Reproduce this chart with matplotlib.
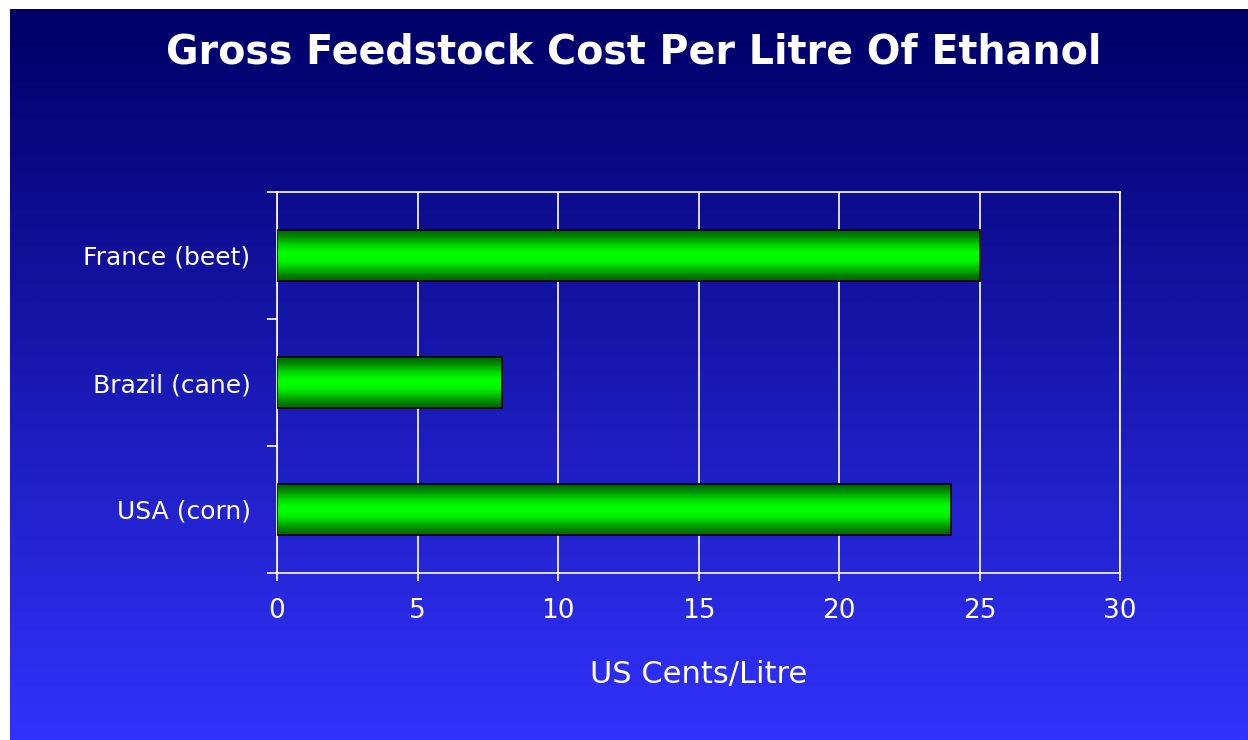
import numpy as np
import matplotlib
matplotlib.use('Agg')
import matplotlib.pyplot as plt

categories = ['USA (corn)', 'Brazil (cane)', 'France (beet)']
cost_cents = [24, 8, 25]
x_ticks = [0, 5, 10, 15, 20, 25, 30]

W, H = 1248, 740
fig = plt.figure(figsize=(W / 100, H / 100), dpi=100)
fig.patch.set_facecolor('white')

# banded blue background panel
bg = fig.add_axes([10 / W, 0, 1 - 10 / W, 1 - 9 / H], zorder=0)
steps = np.floor(np.linspace(0, 1, 400) * 40) / 40
top = np.array([0, 0, 105]) / 255
bottom = np.array([51, 51, 255]) / 255
grad = top[None, :] + steps[:, None] * (bottom - top)[None, :]
bg.imshow(grad[:, None, :], aspect='auto', extent=[0, 1, 0, 1])
bg.axis('off')

ax = fig.add_axes([277 / W, 1 - 573 / H, (1120 - 277) / W, (573 - 192) / H], zorder=1)
ax.patch.set_alpha(0)

y = np.arange(len(categories))
bars = ax.barh(y, cost_cents, height=0.4, facecolor='none', edgecolor='black', linewidth=1.2, zorder=3)

# green tube gradient inside each bar
t = np.linspace(0, 1, 100)
g = 0.4 + 0.6 * np.sin(np.pi * t) ** 1.5
bar_img = np.zeros((100, 1, 3))
bar_img[:, 0, 1] = g
for b in bars:
    x0, y0 = b.get_x(), b.get_y()
    im = ax.imshow(bar_img, aspect='auto', extent=[x0, x0 + b.get_width(), y0, y0 + b.get_height()],
                   zorder=2, interpolation='bilinear')
    im.set_clip_path(b)

ax.set_xlim(0, 30)
ax.set_ylim(-0.5, 2.5)
ax.set_xticks(x_ticks)
ax.set_xticklabels([str(v) for v in x_ticks])
ax.set_yticks([-0.5, 0.5, 1.5, 2.5])
ax.set_yticklabels([])
ax.set_yticks(y, minor=True)
ax.set_yticklabels(categories, minor=True)
ax.tick_params(axis='y', which='minor', length=0, pad=19, labelsize=18, labelcolor='white')
ax.tick_params(axis='y', which='major', length=7, width=1.2, color='white')
ax.tick_params(axis='x', length=6, width=1.2, color='white', labelcolor='white', labelsize=19, pad=12)
ax.grid(axis='x', color='white', linewidth=1.2, zorder=1)
for side in ['left', 'bottom', 'top', 'right']:
    ax.spines[side].set_color('white')
    ax.spines[side].set_linewidth(1.2)

ax.set_xlabel('US Cents/Litre', color='white', fontsize=22, labelpad=26)
fig.text(634 / W, 1 - 53 / H, 'Gross Feedstock Cost Per Litre Of Ethanol', color='white',
         fontsize=28.5, fontweight='bold', ha='center', va='center')

fig.savefig('out.png', dpi=100)
